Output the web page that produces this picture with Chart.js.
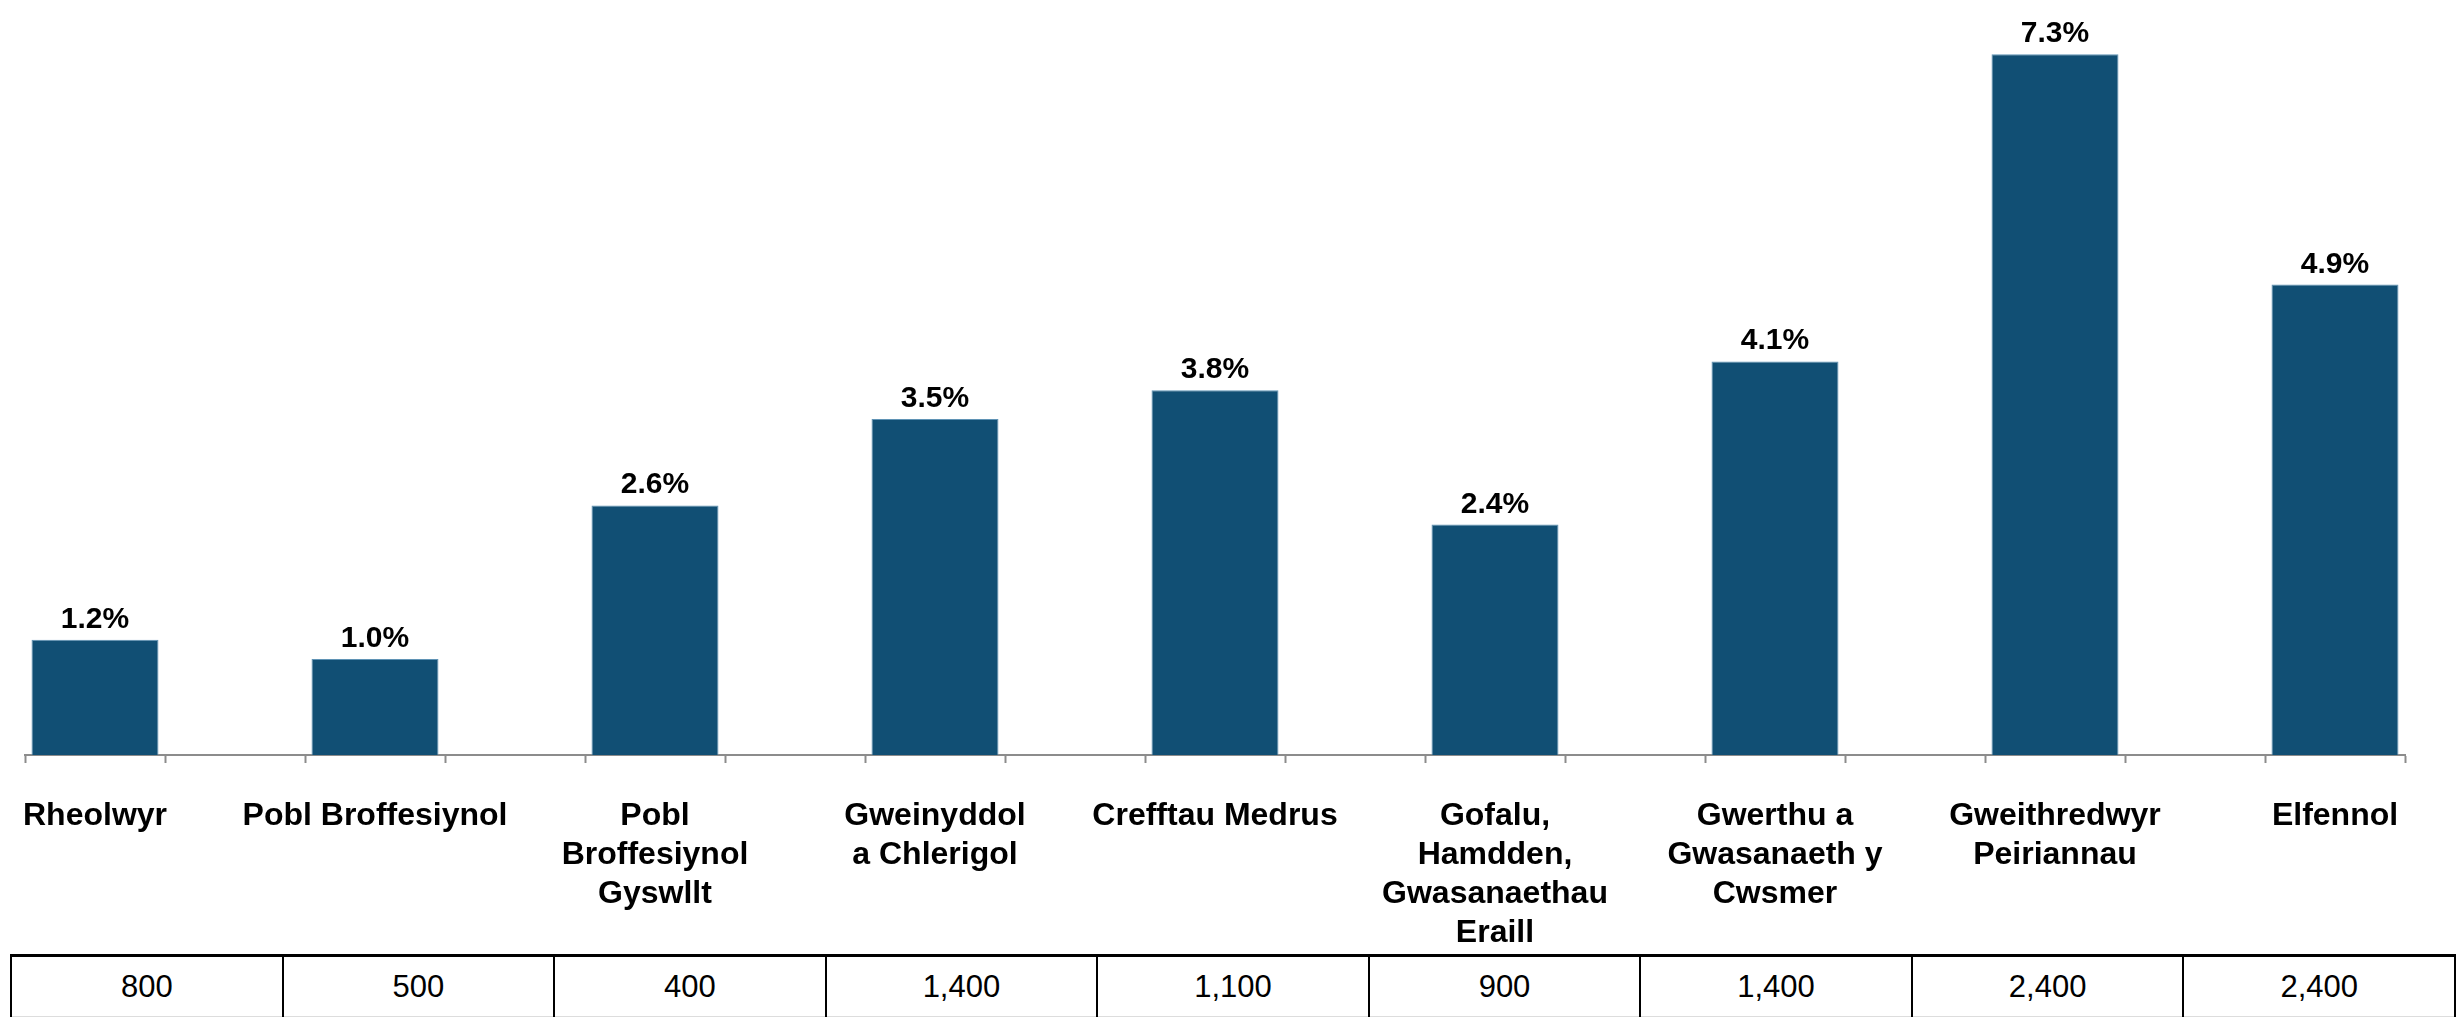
<!DOCTYPE html>
<html>
<head>
<meta charset="utf-8">
<script src="https://cdn.jsdelivr.net/npm/chart.js@4.4.1/dist/chart.umd.min.js"></script>
<style>
  html, body { margin: 0; padding: 0; background: #fff; }
  body { width: 2460px; height: 1018px; position: relative; overflow: hidden; font-family: "Liberation Sans", Arial, sans-serif; }
  #wrap { position: absolute; left: 0; top: 0; width: 2460px; height: 954px; }
  #counts { position: absolute; left: 10px; top: 954px; width: 2446px; height: 63px; border-collapse: collapse; table-layout: fixed; }
  #counts td { border-left: 2px solid #000; border-right: 2px solid #000; border-top: 3px solid #000; border-bottom: 1px solid #ddd;
    text-align: center; vertical-align: middle; font-size: 31px; color: #000; padding: 0; }
</style>
</head>
<body>
<div id="wrap"><canvas id="jobsChart"></canvas></div>
<table id="counts"><tr id="countsRow"></tr></table>
<script>
// --- Data ---
const categories = [
  ["Rheolwyr"],
  ["Pobl Broffesiynol"],
  ["Pobl", "Broffesiynol", "Gyswllt"],
  ["Gweinyddol", "a Chlerigol"],
  ["Crefftau Medrus"],
  ["Gofalu,", "Hamdden,", "Gwasanaethau", "Eraill"],
  ["Gwerthu a", "Gwasanaeth y", "Cwsmer"],
  ["Gweithredwyr", "Peiriannau"],
  ["Elfennol"]
];
const percentages = [1.2, 1.0, 2.6, 3.5, 3.8, 2.4, 4.1, 7.3, 4.9];
const counts = ["800", "500", "400", "1,400", "1,100", "900", "1,400", "2,400", "2,400"];

// bars sit in every other slot, with an empty slot between them
const slotLabels = [];
const slotValues = [];
categories.forEach((c, i) => {
  if (i > 0) { slotLabels.push(""); slotValues.push(null); }
  slotLabels.push(c);
  slotValues.push(percentages[i]);
});

// --- Table under the chart ---
const row = document.getElementById("countsRow");
counts.forEach((n) => {
  const td = document.createElement("td");
  td.textContent = n;
  row.appendChild(td);
});

// --- Value labels above bars ---
const valueLabels = {
  id: "valueLabels",
  afterDatasetsDraw(chart) {
    const ctx = chart.ctx;
    const meta = chart.getDatasetMeta(0);
    ctx.save();
    ctx.font = "bold 30px 'Liberation Sans', Arial, sans-serif";
    ctx.fillStyle = "#000";
    ctx.textAlign = "center";
    ctx.textBaseline = "alphabetic";
    meta.data.forEach((bar, i) => {
      const v = slotValues[i];
      if (v === null) return;
      ctx.fillText(v.toFixed(1) + "%", bar.x, bar.y - 12);
    });
    ctx.restore();
  }
};

// --- Render Chart ---
const ctx = document.getElementById("jobsChart").getContext("2d");
new Chart(ctx, {
  type: "bar",
  data: {
    labels: slotLabels,
    datasets: [{
      data: slotValues,
      backgroundColor: "#114F74",
      borderColor: "#5F93B5",
      borderWidth: 1,
      barPercentage: 0.907,
      categoryPercentage: 1.0
    }]
  },
  options: {
    responsive: true,
    maintainAspectRatio: false,
    animation: false,
    layout: { padding: { top: 35, left: 25, right: 55, bottom: 0 } },
    plugins: { legend: { display: false }, tooltip: { enabled: false } },
    scales: {
      x: {
        offset: true,
        afterFit: (scale) => {
          scale.height = 199;
          scale.paddingLeft = 0;
          scale.paddingRight = 0;
        },
        grid: {
          offset: true,
          drawOnChartArea: false,
          drawTicks: true,
          tickLength: 8,
          tickWidth: 2,
          tickColor: "#8c8c8c"
        },
        border: { display: true, color: "#8c8c8c", width: 2 },
        ticks: {
          autoSkip: false,
          maxRotation: 0,
          minRotation: 0,
          padding: 34,
          color: "#000",
          font: { family: "'Liberation Sans', Arial, sans-serif", size: 32, weight: "bold", lineHeight: 1.22 }
        }
      },
      y: {
        display: false,
        min: 0,
        max: 7.5
      }
    }
  },
  plugins: [valueLabels]
});
</script>
</body>
</html>
